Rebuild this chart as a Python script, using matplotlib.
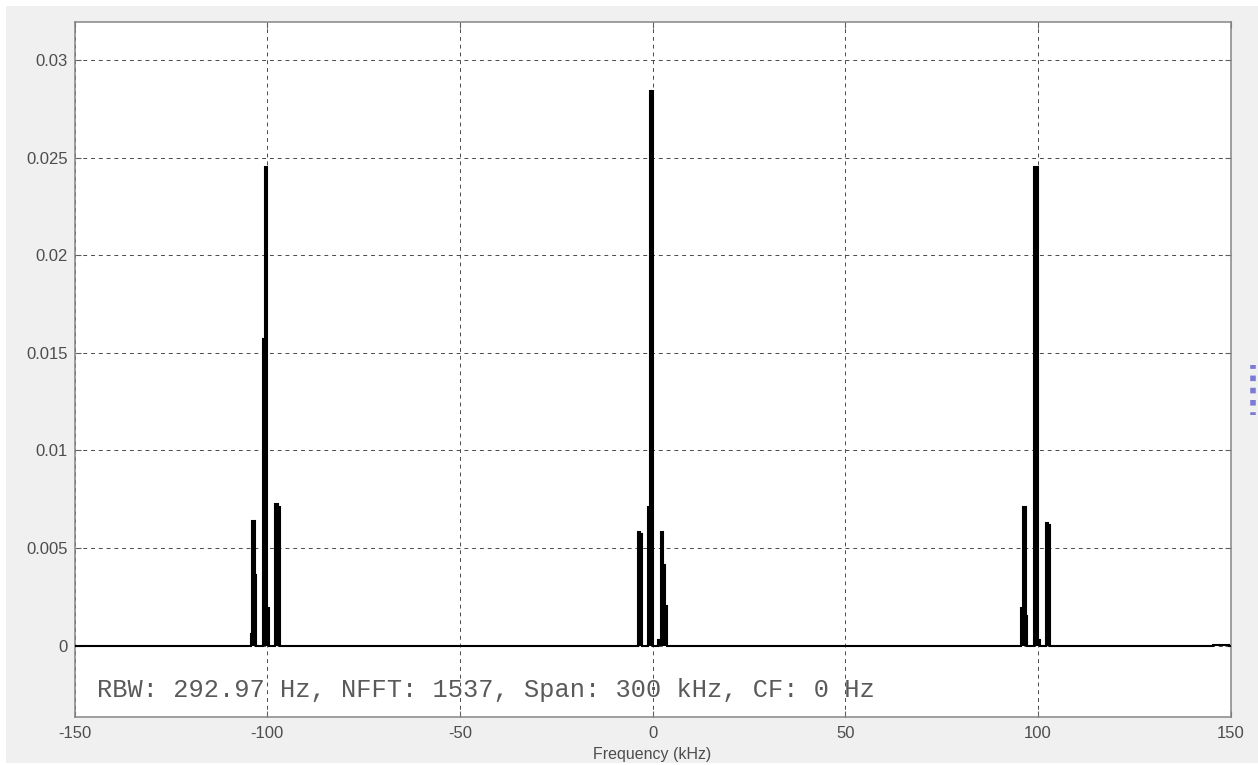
#!/usr/bin/env python
"""Spectrum analyzer view: AM-style carriers at -100, 0 and +100 kHz."""

import matplotlib.pyplot as plt
from matplotlib.lines import Line2D
from matplotlib.patches import Rectangle

# spectral segments: start (kHz), end (kHz), magnitude
seg_start = [-104.3, -103.9, -103.3, -101.1, -100.7, -100.0, -98.0, -97.3,
             -3.8, -3.2, -1.2, -0.6, 1.5, 2.1, 2.7, 3.1,
             95.7, 96.1, 96.8, 98.9, 100.1, 102.1, 102.7,
             145.5]
seg_end = [-103.9, -103.3, -102.9, -100.7, -100.0, -99.6, -97.3, -96.8,
           -3.2, -2.7, -0.6, 0.2, 2.1, 2.7, 3.1, 3.6,
           96.1, 96.8, 97.1, 100.0, 100.5, 102.7, 103.2,
           149.5]
seg_level = [0.0006, 0.0064, 0.0036, 0.0157, 0.0245, 0.0019, 0.00725, 0.0071,
             0.0058, 0.0057, 0.0071, 0.0284, 0.0003, 0.0058, 0.0041, 0.0020,
             0.0019, 0.0071, 0.0015, 0.0245, 0.0003, 0.0063, 0.0062,
             0.00004]

x_ticks = [-150, -100, -50, 0, 50, 100, 150]
y_ticks = [0, 0.005, 0.01, 0.015, 0.02, 0.025, 0.03]
y_tick_labels = ["0", "0.005", "0.01", "0.015", "0.02", "0.025", "0.03"]
info = "RBW: 292.97 Hz, NFFT: 1537, Span: 300 kHz, CF: 0 Hz"

TICK_COLOR = "#4d4d4d"


def build_stairs():
    edges = [-150.0]
    values = []
    for s, e, v in zip(seg_start, seg_end, seg_level):
        if s > edges[-1]:
            values.append(0.0)
            edges.append(s)
        values.append(v)
        edges.append(e)
    values.append(0.0)
    edges.append(150.0)
    return edges, values


def main() -> None:
    plt.rcParams["font.family"] = ["Liberation Sans", "DejaVu Sans"]
    plt.rcParams["axes.unicode_minus"] = False
    fig = plt.figure(figsize=(12.58, 7.65), dpi=100, facecolor="white")
    fig.patches.append(Rectangle((6 / 1258, 2 / 765), 1 - 6 / 1258, 1 - 8 / 765,
                                 transform=fig.transFigure, facecolor="#f0f0f0",
                                 edgecolor="none", zorder=-10))
    ax = fig.add_axes([74.7 / 1258, 48.3 / 765, 1155.9 / 1258, 694.4 / 765])
    ax.set_facecolor("white")

    edges, values = build_stairs()
    ax.stairs(values, edges, baseline=0, fill=True, color="black", lw=0, zorder=3)
    ax.stairs(values, edges, baseline=None, color="black", lw=1.5, zorder=3)

    ax.set_xlim(-150, 150)
    ax.set_ylim(-0.003648, 0.031933)
    ax.set_xticks(x_ticks)
    ax.set_yticks(y_ticks)
    ax.set_yticklabels(y_tick_labels)
    ax.tick_params(direction="in", length=4.5, width=0.8, color="#606060",
                   top=True, right=True, labelsize=12, labelcolor=TICK_COLOR)
    ax.tick_params(axis="x", pad=7)
    ax.tick_params(axis="y", pad=5)
    ax.grid(True, color="#4a4a4a", lw=0.7, ls=(0, (4, 4)))
    for sp in ax.spines.values():
        sp.set_color("#858585")
        sp.set_linewidth(1.1)

    ax.text(0.0193, 0.0384, info, transform=ax.transAxes, ha="left", va="center",
            family=["Liberation Mono", "DejaVu Sans Mono"], fontsize=18.3,
            color="#5a5a5a", zorder=4)
    fig.text(652.5 / 1258, 10 / 765, "Frequency (kHz)", ha="center", va="center",
             fontsize=11.5, color=TICK_COLOR)

    # small purple grip at the right window edge
    fig.add_artist(Line2D([1253 / 1258, 1253 / 1258], [350 / 765, 400 / 765],
                          transform=fig.transFigure, color="#7b7bd6", lw=4,
                          ls=(0.5, (1.0, 1.2))))

    fig.savefig("out.png", dpi=100, facecolor=fig.get_facecolor())
    plt.close(fig)


if __name__ == "__main__":
    main()
